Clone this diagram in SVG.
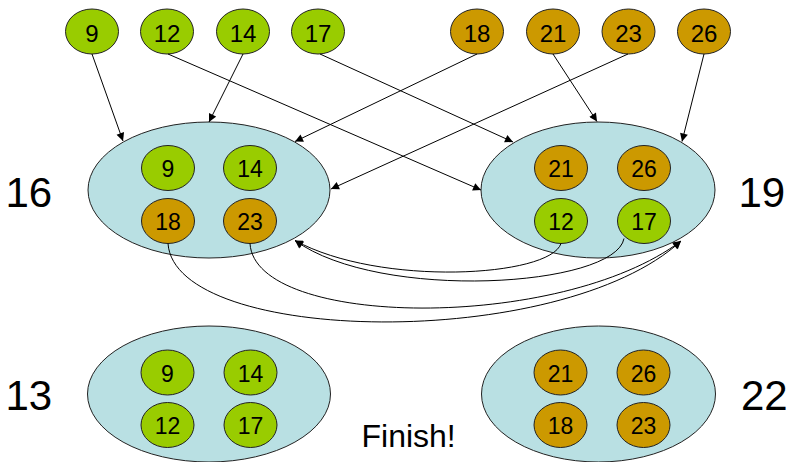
<svg xmlns="http://www.w3.org/2000/svg" width="789" height="462" viewBox="0 0 789 462">
<defs>
<style>
.g{fill:#99CC00;stroke:#222;stroke-width:1}
.o{fill:#CC9900;stroke:#222;stroke-width:1}
.b{fill:#B9E0E3;stroke:#222;stroke-width:1}
.t{font-family:"Liberation Sans",Arial,sans-serif;fill:#000;text-anchor:middle}
.s24{font-size:24px}
.s22{font-size:23px}
.big{font-family:"Liberation Sans",Arial,sans-serif;font-size:42px;fill:#000}
.c{fill:none;stroke:#000;stroke-width:1;marker-end:url(#ah)}
</style>
<marker id="ah" viewBox="0 0 10 10" refX="10" refY="5" markerWidth="9" markerHeight="8" markerUnits="userSpaceOnUse" orient="auto">
<path d="M0,0 L10,5 L0,10 z" fill="#000"/>
</marker>
</defs>

<g id="top-9"><ellipse class="g" cx="92" cy="31.5" rx="26.5" ry="22.5"/><text class="t s24" x="92" y="41.5">9</text></g>
<g id="top-12"><ellipse class="g" cx="167" cy="31.5" rx="26.5" ry="22.5"/><text class="t s24" x="167" y="41.5">12</text></g>
<g id="top-14"><ellipse class="g" cx="243" cy="31.5" rx="26.5" ry="22.5"/><text class="t s24" x="243" y="41.5">14</text></g>
<g id="top-17"><ellipse class="g" cx="318" cy="31.5" rx="26.5" ry="22.5"/><text class="t s24" x="318" y="41.5">17</text></g>
<g id="top-18"><ellipse class="o" cx="477" cy="31.5" rx="26.5" ry="22.5"/><text class="t s24" x="477" y="41.5">18</text></g>
<g id="top-21"><ellipse class="o" cx="553" cy="31.5" rx="26.5" ry="22.5"/><text class="t s24" x="553" y="41.5">21</text></g>
<g id="top-23"><ellipse class="o" cx="628.5" cy="31.5" rx="26.5" ry="22.5"/><text class="t s24" x="628.5" y="41.5">23</text></g>
<g id="top-26"><ellipse class="o" cx="704" cy="31.5" rx="26.5" ry="22.5"/><text class="t s24" x="704" y="41.5">26</text></g>

<g id="set-16">
<ellipse class="b" cx="209" cy="190" rx="121" ry="68"/>
<ellipse class="g" cx="168" cy="168" rx="26.5" ry="22.5"/><text class="t s22" x="168" y="177">9</text>
<ellipse class="g" cx="250" cy="168" rx="26.5" ry="22.5"/><text class="t s22" x="250" y="177">14</text>
<ellipse class="o" cx="168" cy="221" rx="26.5" ry="22.5"/><text class="t s22" x="168" y="230">18</text>
<ellipse class="o" cx="250" cy="221" rx="26.5" ry="22.5"/><text class="t s22" x="250" y="230">23</text>
<text class="big" x="5.5" y="207">16</text>
</g>

<g id="set-19">
<ellipse class="b" cx="598" cy="190" rx="117" ry="68"/>
<ellipse class="o" cx="561" cy="168" rx="26.5" ry="22.5"/><text class="t s22" x="561" y="177">21</text>
<ellipse class="o" cx="644" cy="168" rx="26.5" ry="22.5"/><text class="t s22" x="644" y="177">26</text>
<ellipse class="g" cx="561" cy="221" rx="26.5" ry="22.5"/><text class="t s22" x="561" y="230">12</text>
<ellipse class="g" cx="644" cy="221" rx="26.5" ry="22.5"/><text class="t s22" x="644" y="230">17</text>
<text class="big" x="738.5" y="207">19</text>
</g>

<g id="set-13">
<ellipse class="b" cx="209" cy="394" rx="121.5" ry="68"/>
<ellipse class="g" cx="167.5" cy="372.5" rx="26.5" ry="22.5"/><text class="t s22" x="167.5" y="381.5">9</text>
<ellipse class="g" cx="250.5" cy="372.5" rx="26.5" ry="22.5"/><text class="t s22" x="250.5" y="381.5">14</text>
<ellipse class="g" cx="167.5" cy="425" rx="26.5" ry="22.5"/><text class="t s22" x="167.5" y="434">12</text>
<ellipse class="g" cx="250.5" cy="425" rx="26.5" ry="22.5"/><text class="t s22" x="250.5" y="434">17</text>
<text class="big" x="5.5" y="410">13</text>
</g>

<g id="set-22">
<ellipse class="b" cx="598.5" cy="394" rx="117" ry="68"/>
<ellipse class="o" cx="560.5" cy="372.5" rx="26.5" ry="22.5"/><text class="t s22" x="560.5" y="381.5">21</text>
<ellipse class="o" cx="643.5" cy="372.5" rx="26.5" ry="22.5"/><text class="t s22" x="643.5" y="381.5">26</text>
<ellipse class="o" cx="560.5" cy="425" rx="26.5" ry="22.5"/><text class="t s22" x="560.5" y="434">18</text>
<ellipse class="o" cx="643.5" cy="425" rx="26.5" ry="22.5"/><text class="t s22" x="643.5" y="434">23</text>
<text class="big" x="741" y="410">22</text>
</g>

<g id="finish"><text x="361.5" y="447" font-family="'Liberation Sans',Arial,sans-serif" font-size="32" fill="#000">Finish!</text></g>

<g id="connectors">
<path class="c" d="M92,54 L123,141"/>
<path class="c" d="M243,54 L209,122"/>
<path class="c" d="M477,54 L295,141.5"/>
<path class="c" d="M628,54 L331,189"/>
<path class="c" d="M168,54 L481,190"/>
<path class="c" d="M320,54 L513,142"/>
<path class="c" d="M553,54 L597,121.5"/>
<path class="c" d="M704,54 L682,141.5"/>
<path class="c" d="M561,243.5 C550,277 380,287 295,240.5"/>
<path class="c" d="M624,238.5 C615,287 380,302 295,240.5"/>
<path class="c" d="M168,243.5 C175,345 560,352 681,241"/>
<path class="c" d="M250,243.5 C255,328 560,332 681,241"/>
</g>
</svg>
